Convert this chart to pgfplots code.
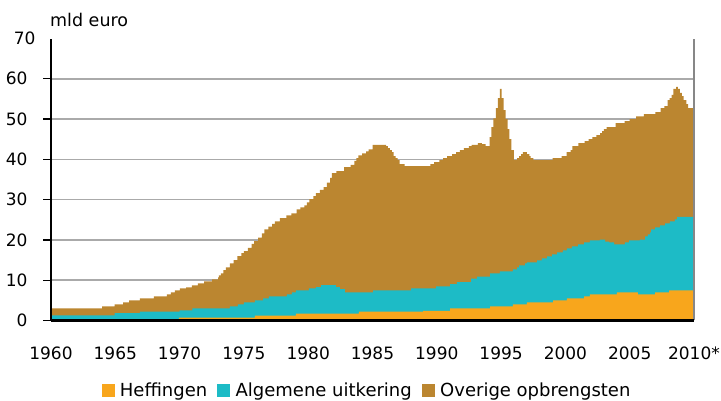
\documentclass[border=0pt]{standalone}
\usepackage{fontspec}
\setmainfont{DejaVu Sans}
\usepackage{pgfplots}
\pgfplotsset{compat=1.18}
\definecolor{heff}{RGB}{248,166,28}
\definecolor{alg}{RGB}{29,187,198}
\definecolor{ovr}{RGB}{187,134,48}
\definecolor{gridgray}{RGB}{170,170,170}
\definecolor{rightgray}{RGB}{135,135,135}
\pgfplotsset{layers/mylayers/.define layer set={axis background,axis grid,main,axis ticks,axis lines,axis tick labels,axis descriptions,axis foreground}{}}
\begin{document}
\begin{tikzpicture}
\begin{axis}[
  set layers=mylayers,
  at={(51pt,80.5pt)}, anchor=south west,
  scale only axis, width=643pt, height=282pt,
  xmin=1960, xmax=2010, ymin=0, ymax=70,
  clip=false,
  axis x line*=bottom, axis y line*=left,
  axis line style={draw=none},
  xtick={1960,1965,...,2010},
  xticklabels={1960,1965,1970,1975,1980,1985,1990,1995,2000,2005,2010*},
  x tick style={draw=none},
  ytick={0,10,...,60},
  extra y ticks={70},
  extra y tick style={major tick length=0pt, grid=none},
  ymajorgrids, grid style={gridgray, line width=1.5pt},
  tick align=outside, major tick length=8pt,
  y tick style={black, line width=1.4pt},
  tick label style={font=\fontsize{17}{20}\selectfont},
  /pgf/number format/assume math mode=true,
  yticklabel style={xshift=-12pt},
  xticklabel style={yshift=-15pt},
  legend style={at={(0.4914,-0.2465)}, anchor=center, draw=none, fill=none,
    legend columns=3, font=\fontsize{18}{21}\selectfont,
    /tikz/every odd column/.append style={column sep=4pt},
    /tikz/every even column/.append style={column sep=8pt}},
]
% Overige opbrengsten (top = total)
\addplot[const plot, fill=ovr, draw=none, forget plot] coordinates {
(1960,3.0)(1963.97,3.5)(1964.95,4.0)(1965.6,4.5)(1966.07,5.0)(1966.92,5.5)(1968.0,6.0)(1969.02,6.5)(1969.33,7.0)(1969.64,7.5)(1970.03,8.0)(1970.5,8.2)(1970.96,8.7)(1971.43,9.2)(1971.9,9.7)(1972.52,10.2)(1972.99,10.7)(1973.06,11.2)(1973.2,11.7)(1973.4,12.5)(1973.6,13.2)(1973.9,14.2)(1974.2,15.0)(1974.5,16.0)(1974.8,16.7)(1975.0,17.2)(1975.3,18.0)(1975.6,19.0)(1975.8,19.7)(1976.1,20.6)(1976.4,21.6)(1976.6,22.6)(1976.9,23.3)(1977.2,24.0)(1977.4,24.6)(1977.8,25.4)(1978.3,26.1)(1978.7,26.6)(1979.1,27.6)(1979.4,28.1)(1979.7,28.6)(1979.9,29.3)(1980.1,30.1)(1980.4,30.9)(1980.6,31.6)(1980.9,32.4)(1981.2,33.1)(1981.45,34.2)(1981.7,35.4)(1981.85,36.6)(1982.2,37.1)(1982.8,38.1)(1983.3,38.6)(1983.6,39.6)(1983.75,40.3)(1983.9,41.0)(1984.2,41.5)(1984.5,42.0)(1984.7,42.5)(1985.0,43.6)(1986.05,43.3)(1986.2,42.8)(1986.35,42.3)(1986.5,41.8)(1986.65,40.8)(1986.8,40.3)(1986.95,39.8)(1987.1,38.8)(1987.5,38.3)(1989.5,38.8)(1989.8,39.3)(1990.2,39.8)(1990.5,40.3)(1990.8,40.8)(1991.2,41.3)(1991.5,41.8)(1991.8,42.3)(1992.1,42.8)(1992.5,43.3)(1992.7,43.6)(1993.2,44.0)(1993.5,43.8)(1993.8,43.3)(1994.1,45.5)(1994.25,48.0)(1994.4,50.2)(1994.6,52.7)(1994.75,55.2)(1994.9,57.5)(1995.05,55.2)(1995.2,52.2)(1995.35,50.0)(1995.5,47.5)(1995.65,45.0)(1995.8,42.3)(1996.0,39.8)(1996.25,40.3)(1996.4,40.8)(1996.55,41.3)(1996.7,41.8)(1997.0,41.3)(1997.2,40.8)(1997.3,40.3)(1997.5,39.8)(1999.0,40.3)(1999.7,40.8)(2000.1,41.8)(2000.4,42.3)(2000.55,43.3)(2001.0,44.0)(2001.5,44.5)(2001.8,45.0)(2002.1,45.5)(2002.4,46.0)(2002.7,46.5)(2002.85,47.0)(2003.0,47.5)(2003.2,48.0)(2003.9,49.0)(2004.6,49.5)(2005.0,50.0)(2005.5,50.7)(2006.1,51.2)(2007.0,51.7)(2007.4,52.7)(2007.7,53.2)(2007.95,54.7)(2008.1,55.2)(2008.25,56.0)(2008.4,57.5)(2008.6,58.0)(2008.75,57.5)(2008.9,56.5)(2009.05,55.7)(2009.2,54.7)(2009.4,53.7)(2009.55,52.7)(2010,52.7)
} \closedcycle;
% Algemene uitkering (top = heffingen + algemene uitkering)
\addplot[const plot, fill=alg, draw=none, forget plot] coordinates {
(1960,1.3)(1964.95,1.8)(1966.92,2.2)(1970.0,2.5)(1971.0,3.0)(1973.9,3.5)(1974.54,4.0)(1975.0,4.5)(1975.86,5.0)(1976.5,5.5)(1976.95,6.0)(1978.35,6.5)(1978.74,7.0)(1979.05,7.5)(1980.06,8.0)(1980.6,8.3)(1981.0,8.8)(1982.16,8.3)(1982.47,7.8)(1982.86,7.0)(1985.04,7.5)(1988.0,8.0)(1989.94,8.5)(1991.03,9.0)(1991.57,9.5)(1992.66,10.4)(1993.13,10.9)(1994.14,11.7)(1994.91,12.2)(1995.92,12.7)(1996.24,13.2)(1996.4,13.7)(1996.86,14.2)(1997.01,14.4)(1997.8,14.9)(1998.18,15.4)(1998.57,15.9)(1998.96,16.4)(1999.35,16.9)(1999.81,17.4)(2000.12,17.9)(2000.51,18.4)(2000.98,18.9)(2001.45,19.4)(2001.91,19.9)(2002.69,20.1)(2003.08,19.6)(2003.39,19.4)(2003.78,18.9)(2004.63,19.4)(2004.95,19.9)(2005.8,20.1)(2006.19,20.9)(2006.42,21.4)(2006.58,21.9)(2006.66,22.6)(2006.97,23.1)(2007.36,23.6)(2007.75,24.1)(2008.13,24.6)(2008.52,25.1)(2008.68,25.7)(2010,25.7)
} \closedcycle;
% Heffingen
\addplot[const plot, fill=heff, draw=none, forget plot] coordinates {
(1960,0)(1969.95,0.7)(1975.86,1.2)(1979.05,1.7)(1983.95,2.2)(1988.93,2.4)(1991.03,3.0)(1994.14,3.5)(1995.92,4.0)(1997.01,4.5)(1999.04,5.0)(2000.12,5.5)(2001.45,6.0)(2001.91,6.5)(2004.0,7.0)(2005.64,6.5)(2006.97,7.0)(2008.06,7.5)(2010,7.5)
} \closedcycle;
\draw[rightgray, line width=2pt] (rel axis cs:1,0) -- (rel axis cs:1,1);
\draw[black, line width=2pt] (rel axis cs:0,0) -- (rel axis cs:0,1);
\draw[black, line width=2.5pt] (rel axis cs:0,0) -- (rel axis cs:1,0);
\node[anchor=base west, inner sep=0pt, font=\fontsize{17.5}{20}\selectfont] at (rel axis cs:-0.0016,1.0408) {mld euro};
\addlegendimage{legend image code/.code={\fill[heff] (0pt,-6pt) rectangle (12pt,6pt);}}
\addlegendentry{Heffingen}
\addlegendimage{legend image code/.code={\fill[alg] (0pt,-6pt) rectangle (12pt,6pt);}}
\addlegendentry{Algemene uitkering}
\addlegendimage{legend image code/.code={\fill[ovr] (0pt,-6pt) rectangle (12pt,6pt);}}
\addlegendentry{Overige opbrengsten}
\end{axis}
\pgfresetboundingbox
\path (0,0) rectangle (721pt,401pt);
\end{tikzpicture}
\end{document}
